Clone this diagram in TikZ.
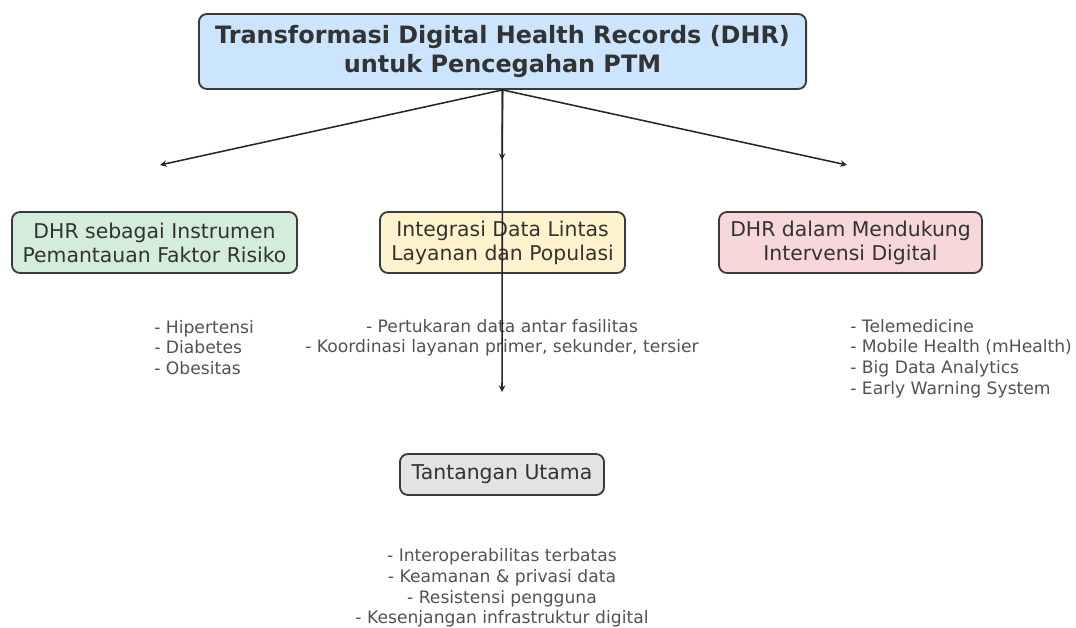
\documentclass[tikz,border=0pt]{standalone}
\usepackage{fontspec}
\setmainfont{DejaVu Sans}
\usepackage{tikz}

\definecolor{boxline}{HTML}{3A3A3A}
\definecolor{txt}{HTML}{333333}
\definecolor{bluefill}{HTML}{CCE5FF}
\definecolor{greenfill}{HTML}{D4EDDA}
\definecolor{yellowfill}{HTML}{FFF3CD}
\definecolor{pinkfill}{HTML}{F8D7DA}
\definecolor{greyfill}{HTML}{E2E3E5}

\tikzset{
  box/.style={rectangle,rounded corners=0.2cm,draw=boxline,line width=1.3pt,
    text=txt,align=center,minimum height=1.525cm,inner xsep=4pt,
    font=\fontsize{14.5}{17}\selectfont},
  items/.style={text=txt!85,font=\fontsize{12.2}{14.6}\selectfont,inner sep=0pt},
  link/.style={->,>=stealth,line width=1.1pt,draw=black!85}
}

\begin{document}
\begin{tikzpicture}[x=0.025cm,y=-0.025cm]

      \useasboundingbox (0,0) rectangle (1076,628);

      \node[box,fill=bluefill,minimum width=15.175cm,minimum height=1.875cm,
        font=\fontsize{17}{20.5}\selectfont\bfseries] (title) at (502.5,51.5)
        {Transformasi Digital Health Records (DHR)\\untuk Pencegahan PTM};

      \node[box,fill=greenfill,minimum width=7.125cm] (risk) at (154.5,242.5)
        {DHR sebagai Instrumen\\Pemantauan Faktor Risiko};
      \node[box,fill=yellowfill,minimum width=6.125cm] (integ) at (502.5,242.5)
        {Integrasi Data Lintas\\Layanan dan Populasi};
      \node[box,fill=pinkfill,minimum width=6.575cm] (interv) at (850.5,242.5)
        {DHR dalam Mendukung\\Intervensi Digital};
      \node[box,fill=greyfill,minimum width=5.1cm,minimum height=1.025cm] (chall) at (502,474.5)
        {Tantangan Utama};

      \node[items,align=left,anchor=west] (riskitems) at (154,347.5)
        {- Hipertensi\\- Diabetes\\- Obesitas};
      \node[items,align=center] (integitems) at (502,338)
        {- Pertukaran data antar fasilitas\\- Koordinasi layanan primer, sekunder, tersier};
      \node[items,align=left,anchor=west] (intervitems) at (850,358.5)
        {- Telemedicine\\- Mobile Health (mHealth)\\- Big Data Analytics\\- Early Warning System};
      \node[items,align=center] (challitems) at (502,588)
        {- Interoperabilitas terbatas\\- Keamanan \& privasi data\\- Resistensi pengguna\\- Kesenjangan infrastruktur digital};

      % free ends of the arrows
      \coordinate (toleft) at (160,165);
      \coordinate (tomid) at (502,160);
      \coordinate (toright) at (847,165);
      \coordinate (todown) at (502,392);

      \draw[link] (title.south) -- (toleft);
      \draw[link] (title.south) -- (tomid);
      \draw[link] (title.south) -- (toright);
      \draw[link] (title.south) -- (todown);

    \end{tikzpicture}
\end{document}
